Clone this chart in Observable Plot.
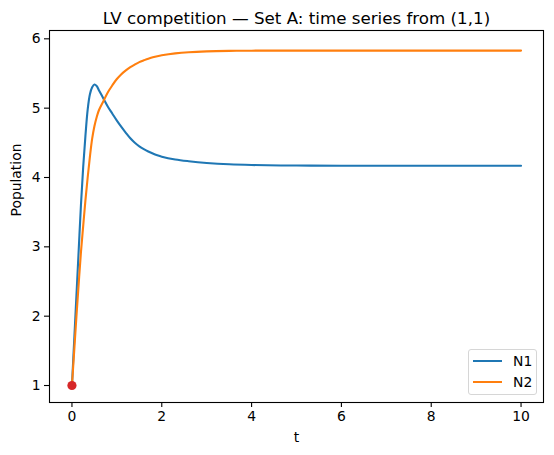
<!DOCTYPE html>
<html>
<head>
<meta charset="utf-8">
<script src="https://cdn.jsdelivr.net/npm/d3@7"></script>
<script src="https://cdn.jsdelivr.net/npm/@observablehq/plot@0.6"></script>
<style>
  html, body { margin: 0; padding: 0; background: #fff; }
  #wrap { position: relative; width: 554px; height: 455px; font-family: "DejaVu Sans", sans-serif; }
  #legend { position: absolute; left: 468px; top: 349px; width: 67px; height: 44px;
    border: 1px solid #d6d6d6; border-radius: 3px; background: rgba(255,255,255,0.8); }
  .li { position: absolute; left: 0; height: 20px; width: 67px; }
  .li .sw { position: absolute; left: 4px; top: 9px; width: 29px; height: 2px; }
  .li .lb { position: absolute; left: 44px; top: 1px; font-size: 13.9px; line-height: 18px; color: #000; }
</style>
</head>
<body>
<div id="wrap"></div>
<script>
// ---- data ----
const tValues = [0, 0.05, 0.1, 0.15, 0.2, 0.25, 0.3, 0.35, 0.4, 0.45, 0.5, 0.55, 0.6, 0.7, 0.8, 0.9, 1.0, 1.1, 1.2, 1.3, 1.4, 1.5, 1.6, 1.7, 1.8, 1.9, 2.0, 2.3, 2.6, 3.0, 3.5, 4, 5, 6, 8, 10];
const n1Values = [1, 1.65, 2.3, 2.95, 3.6, 4.15, 4.6, 4.98, 5.2, 5.3, 5.34, 5.32, 5.26, 5.14, 5.02, 4.92, 4.82, 4.73, 4.645, 4.565, 4.50, 4.45, 4.41, 4.375, 4.345, 4.32, 4.30, 4.26, 4.235, 4.21, 4.19, 4.18, 4.172, 4.17, 4.17, 4.17];
const n2Values = [1, 1.5, 2.0, 2.47, 2.92, 3.3, 3.67, 4.0, 4.3, 4.56, 4.74, 4.87, 4.97, 5.1, 5.23, 5.33, 5.42, 5.49, 5.545, 5.592, 5.63, 5.664, 5.69, 5.714, 5.733, 5.749, 5.762, 5.79, 5.807, 5.819, 5.826, 5.829, 5.83, 5.83, 5.83, 5.83];
const seriesNames = ["N1", "N2"];
const seriesColors = ["#1f77b4", "#ff7f0e"];
const startT = [0];
const startN = [1];
const xTicks = [0, 2, 4, 6, 8, 10];
const yTicks = [1, 2, 3, 4, 5, 6];
const titleText = "LV competition — Set A: time series from (1,1)";
const xLabel = "t";
const yLabel = "Population";

const rows = [];
tValues.forEach((t, i) => {
  rows.push({t, N: n1Values[i], s: seriesNames[0]});
  rows.push({t, N: n2Values[i], s: seriesNames[1]});
});
const start = startT.map((t, i) => ({t, N: startN[i]}));

const plot = Plot.plot({
  width: 554, height: 455,
  marginLeft: 49, marginRight: 11, marginTop: 30, marginBottom: 53,
  style: {fontFamily: "DejaVu Sans, sans-serif", fontSize: "13.9px", background: "#fff", color: "#000"},
  x: {domain: [-0.5, 10.5]},
  y: {domain: [0.755, 6.12]},
  color: {domain: seriesNames, range: seriesColors},
  marks: [
    Plot.axisX({ticks: xTicks, tickFormat: d3.format("d"), tickSize: 5, tickPadding: 4, label: null, fontSize: 13.9, stroke: "#000", strokeWidth: 1.1}),
    Plot.axisY({ticks: yTicks, tickFormat: d3.format("d"), tickSize: 5, tickPadding: 4, label: null, fontSize: 13.9, stroke: "#000", strokeWidth: 1.1}),
    Plot.line(rows, {x: "t", y: "N", z: "s", stroke: "s", strokeWidth: 2.1, curve: "catmull-rom"}),
    Plot.dot(start, {x: "t", y: "N", r: 4.6, fill: "#d62728", stroke: "none"}),
    Plot.frame({stroke: "#000", strokeWidth: 1.1}),
    Plot.text([titleText], {frameAnchor: "top", dy: -12, lineAnchor: "middle", fontSize: 16.7, fill: "#000"}),
    Plot.text([xLabel], {frameAnchor: "bottom", dy: 35, lineAnchor: "middle", fontSize: 13.9, fill: "#000"}),
    Plot.text([yLabel], {frameAnchor: "left", dx: -33, rotate: -90, lineAnchor: "middle", fontSize: 13.9, fill: "#000"})
  ]
});
const wrap = document.getElementById("wrap");
wrap.appendChild(plot);

const legend = document.createElement("div");
legend.id = "legend";
seriesNames.forEach((name, i) => {
  const li = document.createElement("div");
  li.className = "li";
  li.style.top = (1 + i * 21) + "px";
  const sw = document.createElement("div");
  sw.className = "sw";
  sw.style.background = seriesColors[i];
  const lb = document.createElement("div");
  lb.className = "lb";
  lb.textContent = name;
  li.appendChild(sw); li.appendChild(lb);
  legend.appendChild(li);
});
wrap.appendChild(legend);
</script>
</body>
</html>
